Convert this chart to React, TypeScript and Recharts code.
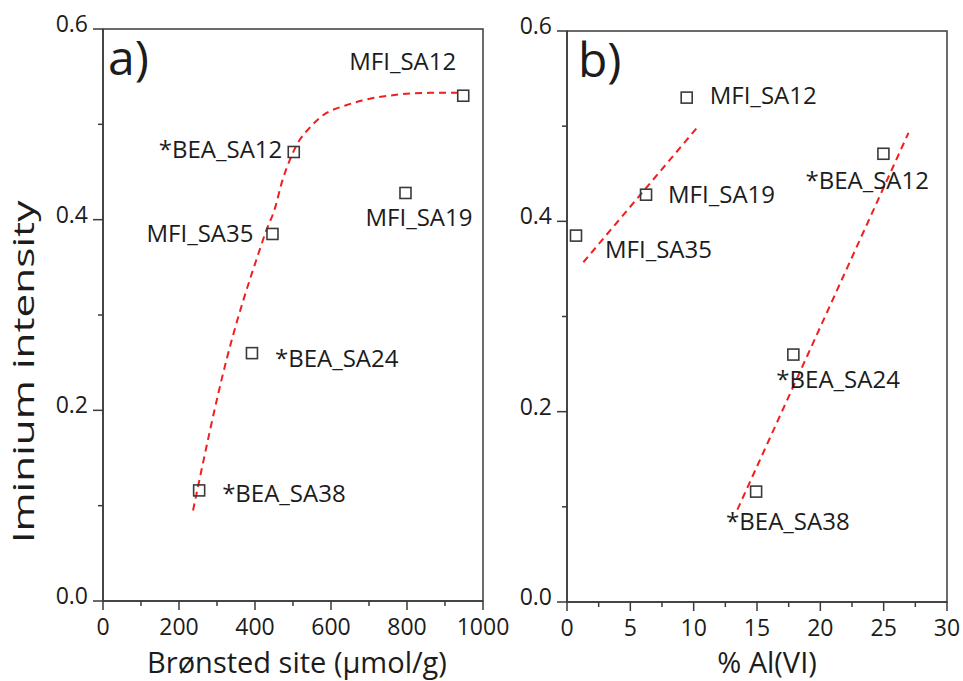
import React from 'react';
import { ComposedChart, Scatter, Line, XAxis, YAxis, ReferenceArea } from 'recharts';

const FONT = '"Open Sans", sans-serif';
const INK = '#1c1c1c';
const AXIS = '#3a3a3a';
const FIT = '#f21d1d';

// samples, same order in both panels
const samples = ['MFI_SA12', '*BEA_SA12', 'MFI_SA19', 'MFI_SA35', '*BEA_SA24', '*BEA_SA38'];
const iminium = [0.53, 0.471, 0.428, 0.385, 0.26, 0.116];
const bronsted = [948, 502, 796, 446, 392, 253];
const alVI = [9.45, 24.98, 6.24, 0.71, 17.87, 14.93];

// dashed fits
const fitBronstedX = [237, 325, 412, 430, 451, 472, 491, 512, 543, 577, 640, 682, 772, 858, 940];
const fitBronstedY = [0.095, 0.253, 0.368, 0.389, 0.41, 0.441, 0.462, 0.48, 0.496, 0.509, 0.52, 0.525, 0.531, 0.533, 0.533];
const fitMfiX = [1.29, 10.24];
const fitMfiY = [0.357, 0.498];
const fitBeaX = [13.45, 26.96];
const fitBeaY = [0.097, 0.493];

const yTicks = [0, 0.1, 0.2, 0.3, 0.4, 0.5, 0.6];
const bronstedTicks = [0, 100, 200, 300, 400, 500, 600, 700, 800, 900, 1000];
const alTicks = [0, 2.5, 5, 7.5, 10, 12.5, 15, 17.5, 20, 22.5, 25, 27.5, 30];

// label placement around each marker (start x, cap-centre y), px
const labelOffsetA: [number, number][] = [[-114, -34], [-135, -2], [-40, 25], [-126, 0], [23, 5], [23, 3]];
const labelOffsetB: [number, number][] = [[23, -2], [-78, 27], [22, 0], [29, 14], [-17, 25], [-30, 30]];

const toRows = (xs: number[], ys: number[]) => xs.map((x, i) => ({ x, y: ys[i] }));

const makeMarker = (offsets: [number, number][]) => (props: any) => {
  const { cx, cy, payload } = props;
  if (cx == null || cy == null) return <g />;
  const [dx, dy] = offsets[payload.i];
  return (
    <g>
      <rect x={cx - 5.5} y={cy - 5.5} width={11} height={11} fill="none" stroke={AXIS} strokeWidth={1.6} />
      <text x={cx + dx} y={cy + dy + 8.5} fontSize={24} fontFamily={FONT} fill={INK}>
        {payload.name}
      </text>
    </g>
  );
};

const bottomTick = (isMajor: (v: number) => boolean) => (props: any) => {
  const { x, y, payload } = props;
  const major = isMajor(payload.value);
  return (
    <g>
      <line x1={x} x2={x} y1={y} y2={y + (major ? 9 : 5)} stroke={AXIS} strokeWidth={1.5} />
      {major && (
        <text x={x} y={y + 34} textAnchor="middle" fontSize={23} fontFamily={FONT} fill={INK}>
          {payload.value}
        </text>
      )}
    </g>
  );
};

const leftTick = (props: any) => {
  const { x, y, payload } = props;
  const major = Math.round(payload.value * 10) % 2 === 0;
  return (
    <g>
      <line x1={x - (major ? 10 : 5)} x2={x} y1={y} y2={y} stroke={AXIS} strokeWidth={1.5} />
      {major && (
        <text x={x - 15} y={y + 3} textAnchor="end" fontSize={23} fontFamily={FONT} fill={INK}>
          {payload.value.toFixed(1)}
        </text>
      )}
    </g>
  );
};

type PanelProps = {
  xs: number[];
  fits: { x: number[]; y: number[] }[];
  xMax: number;
  xTicks: number[];
  isMajor: (v: number) => boolean;
  xTitle: string;
  xTitleShift: number;
  letter: string;
  letterShift: number;
  offsets: [number, number][];
  width: number;
  xAxisHeight: number;
  margin: { top: number; right: number; bottom: number; left: number };
  yTitle?: boolean;
};

const Panel = (p: PanelProps) => {
  const rows = samples.map((name, i) => ({ x: p.xs[i], y: iminium[i], name, i }));
  return (
    <ComposedChart width={p.width} height={681} margin={p.margin}>
      <XAxis
        type="number"
        dataKey="x"
        domain={[0, p.xMax]}
        ticks={p.xTicks}
        interval={0}
        tickSize={0}
        tickMargin={0}
        tickLine={false}
        axisLine={{ stroke: AXIS, strokeWidth: 1.5 }}
        height={p.xAxisHeight}
        tick={bottomTick(p.isMajor)}
        allowDataOverflow
        label={{
          content: (lp: any) => {
            const vb = lp.viewBox;
            return (
              <text x={vb.x + vb.width / 2 + p.xTitleShift} y={vb.y + vb.height - 8} textAnchor="middle" fontSize={29} fontFamily={FONT} fill={INK}>
                {p.xTitle}
              </text>
            );
          },
        }}
      />
      <YAxis
        type="number"
        dataKey="y"
        domain={[0, 0.6]}
        ticks={yTicks}
        interval={0}
        tickSize={0}
        tickMargin={0}
        tickLine={false}
        axisLine={{ stroke: AXIS, strokeWidth: 1.5 }}
        width={60}
        tick={leftTick}
        allowDataOverflow
        label={
          p.yTitle
            ? {
                content: (lp: any) => {
                  const vb = lp.viewBox;
                  return (
                    <text
                      transform={`translate(${vb.x - 9}, ${vb.y + vb.height / 2 + 57}) rotate(-90) scale(1.41, 1)`}
                      textAnchor="middle"
                      fontSize={30}
                      fontFamily={FONT}
                      fill={INK}
                    >
                      Iminium intensity
                    </text>
                  );
                },
              }
            : undefined
        }
      />
      <ReferenceArea
        x1={0}
        x2={p.xMax}
        y1={0}
        y2={0.6}
        fill="none"
        stroke={AXIS}
        strokeWidth={1.5}
        label={{
          content: (lp: any) => {
            const vb = lp.viewBox;
            return (
              <text x={vb.x + p.letterShift} y={vb.y + 46} fontSize={48} fontFamily={FONT} fill={INK}>
                {p.letter}
              </text>
            );
          },
        }}
      />
      {p.fits.map((f, k) => (
        <Line
          key={k}
          data={toRows(f.x, f.y)}
          dataKey="y"
          type="monotone"
          stroke={FIT}
          strokeWidth={2}
          strokeDasharray="7 5"
          dot={false}
          activeDot={false}
          isAnimationActive={false}
        />
      ))}
      <Scatter data={rows} shape={makeMarker(p.offsets)} isAnimationActive={false} />
    </ComposedChart>
  );
};

export default function App() {
  return (
    <div style={{ position: 'absolute', left: 0, top: 0, width: 963, height: 681, background: '#fff' }}>
      <div style={{ position: 'absolute', left: 0, top: 0 }}>
        <Panel
          xs={bronsted}
          fits={[{ x: fitBronstedX, y: fitBronstedY }]}
          xMax={1000}
          xTicks={bronstedTicks}
          isMajor={(v) => v % 200 === 0}
          xTitle="Brønsted site (μmol/g)"
          xTitleShift={4}
          letter="a)"
          letterShift={5}
          offsets={labelOffsetA}
          width={530}
          xAxisHeight={80}
          margin={{ top: 29, right: 47, bottom: 0, left: 43 }}
          yTitle
        />
      </div>
      <div style={{ position: 'absolute', left: 500, top: 0 }}>
        <Panel
          xs={alVI}
          fits={[
            { x: fitMfiX, y: fitMfiY },
            { x: fitBeaX, y: fitBeaY },
          ]}
          xMax={30}
          xTicks={alTicks}
          isMajor={(v) => v % 5 === 0}
          xTitle="% Al(VI)"
          xTitleShift={10}
          letter="b)"
          letterShift={11}
          offsets={labelOffsetB}
          width={463}
          xAxisHeight={79}
          margin={{ top: 31, right: 16, bottom: 0, left: 7 }}
        />
      </div>
    </div>
  );
}
